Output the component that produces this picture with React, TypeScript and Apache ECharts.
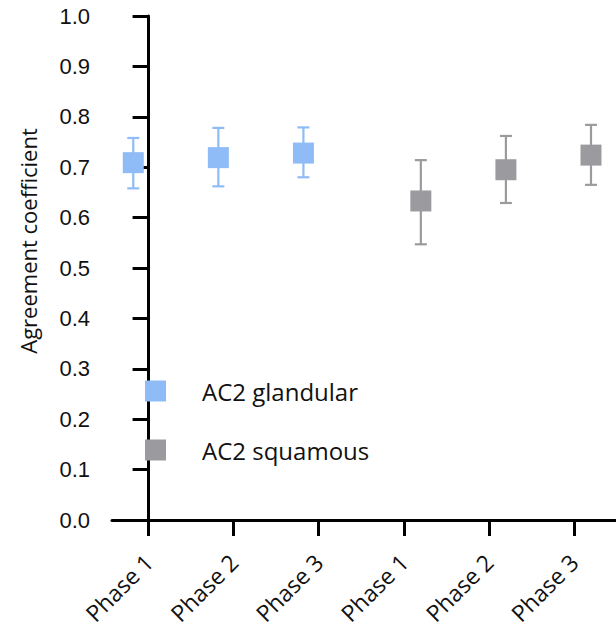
import React, { useEffect, useRef } from "react";
import * as echarts from "echarts";

const phaseLabels = ["Phase 1", "Phase 2", "Phase 3", "Phase 1", "Phase 2", "Phase 3"];
const tickPositions = [0, 1, 2, 3, 4, 5];
const yTicks = [0, 0.1, 0.2, 0.3, 0.4, 0.5, 0.6, 0.7, 0.8, 0.9, 1.0];

const glandularName = "AC2 glandular";
const glandularSlots = [0, 1, 2];
const glandularMean = [0.709, 0.719, 0.728];
const glandularLow = [0.658, 0.662, 0.68];
const glandularHigh = [0.758, 0.778, 0.779];

const squamousName = "AC2 squamous";
const squamousSlots = [3, 4, 5];
const squamousMean = [0.633, 0.695, 0.724];
const squamousLow = [0.547, 0.629, 0.665];
const squamousHigh = [0.714, 0.762, 0.784];

const glandularOffset = -0.18;
const squamousOffset = 0.2;

const BLUE = "#8fbcf6";
const GRAY = "#9b9b9f";

function errorSeries(name: string, slots: number[], offset: number, low: number[], high: number[], color: string) {
  return {
    type: "custom",
    name,
    z: 1,
    data: slots.map((s, i) => [s + offset, low[i], high[i]]),
    encode: { x: 0, y: [1, 2] },
    renderItem: (params: any, api: any) => {
      const x = api.value(0);
      const lo = api.coord([x, api.value(1)]);
      const hi = api.coord([x, api.value(2)]);
      const cap = 6;
      const style = { stroke: color, lineWidth: 2.2, fill: "none" };
      return {
        type: "group",
        children: [
          { type: "line", shape: { x1: lo[0], y1: lo[1], x2: hi[0], y2: hi[1] }, style },
          { type: "line", shape: { x1: hi[0] - cap, y1: hi[1], x2: hi[0] + cap, y2: hi[1] }, style },
          { type: "line", shape: { x1: lo[0] - cap, y1: lo[1], x2: lo[0] + cap, y2: lo[1] }, style },
        ],
      };
    },
  };
}

export default function App() {
  const ref = useRef<HTMLDivElement>(null);
  useEffect(() => {
    if (!ref.current) return;
    const chart = echarts.init(ref.current, null, { renderer: "svg" });
    chart.setOption({
      animation: false,
      backgroundColor: "#ffffff",
      grid: { left: 112, right: 0, top: 16, bottom: 110 },
      xAxis: {
        type: "value",
        min: -0.43,
        max: 5.494,
        splitLine: { show: false },
        axisLine: { show: true, lineStyle: { color: "#000", width: 3 } },
        axisTick: { show: true, length: 16, lineStyle: { color: "#000", width: 3 }, customValues: tickPositions },
        axisLabel: {
          customValues: tickPositions,
          formatter: (v: number) => phaseLabels[Math.round(v)] ?? "",
          rotate: 45,
          margin: 38,
          fontFamily: "Open Sans",
          fontSize: 23,
          color: "#111",
        },
      },
      yAxis: {
        type: "value",
        min: 0,
        max: 1,
        interval: 0.1,
        splitLine: { show: false },
        axisLine: { show: true, lineStyle: { color: "#000", width: 3 } },
        axisTick: { show: true, length: 16, lineStyle: { color: "#000", width: 3 } },
        axisLabel: {
          margin: 22,
          fontFamily: "Liberation Sans, Arial",
          fontSize: 22,
          color: "#111",
          formatter: (v: number) => {
            const t = yTicks.find((y) => Math.abs(y - v) < 1e-6);
            return (t ?? v).toFixed(1);
          },
        },
      },
      legend: {
        data: [glandularName, squamousName],
        orient: "vertical",
        left: 145,
        top: 379,
        padding: 0,
        itemWidth: 21,
        itemHeight: 21,
        itemGap: 35,
        icon: "rect",
        selectedMode: false,
        textStyle: { fontFamily: "Open Sans", fontSize: 24, color: "#111", padding: [0, 0, 0, 31] },
      },
      graphic: [
        {
          type: "text",
          x: 28,
          y: 241,
          rotation: Math.PI / 2,
          style: {
            text: "Agreement coefficient",
            fontFamily: "Open Sans",
            fontSize: 22,
            fill: "#111",
            align: "center",
            verticalAlign: "middle",
          },
        },
      ],
      series: [
        errorSeries(glandularName + " error", glandularSlots, glandularOffset, glandularLow, glandularHigh, BLUE),
        errorSeries(squamousName + " error", squamousSlots, squamousOffset, squamousLow, squamousHigh, GRAY),
        {
          type: "scatter",
          name: glandularName,
          symbol: "rect",
          symbolSize: 21,
          z: 3,
          itemStyle: { color: BLUE, opacity: 1 },
          data: glandularSlots.map((s, i) => [s + glandularOffset, glandularMean[i]]),
        },
        {
          type: "scatter",
          name: squamousName,
          symbol: "rect",
          symbolSize: 21,
          z: 3,
          itemStyle: { color: GRAY, opacity: 1 },
          data: squamousSlots.map((s, i) => [s + squamousOffset, squamousMean[i]]),
        },
      ],
    });
    return () => chart.dispose();
  }, []);
  return <div ref={ref} style={{ position: "fixed", left: 0, top: 0, width: 616, height: 630 }} />;
}
